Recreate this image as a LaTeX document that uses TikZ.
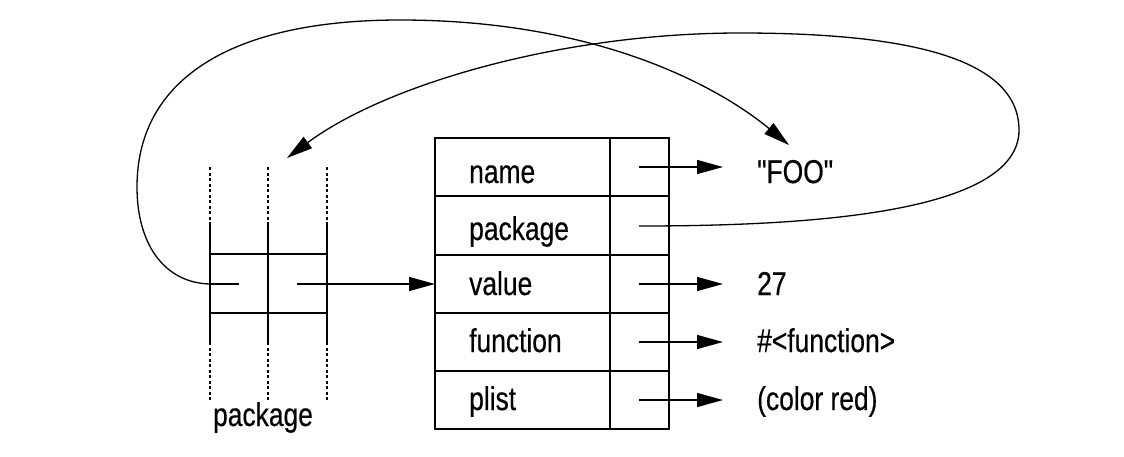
\documentclass[tikz,border=0pt]{standalone}
\usepackage{fontspec}
\setmainfont{Liberation Sans}[FakeStretch=0.8,FakeBold=0.4,Ligatures=TeXOff]
\usetikzlibrary{arrows.meta}
\begin{document}
\begin{tikzpicture}[x=1pt,y=-1pt,
  tbl/.style={line width=1.5pt},
  conn/.style={line width=1.3pt},
  arr/.style={conn,-{Triangle[length=26pt,width=14pt]}},
  dots/.style={line width=1.2pt,dash pattern=on 3pt off 2.5pt},
  lbl/.style={anchor=base west,inner sep=0pt,font=\fontsize{33}{39}\selectfont}]
\useasboundingbox (0,0) rectangle (1124,456);
% symbol table
\draw[tbl] (435,138) rectangle (669,429);
\draw[tbl] (610,138) -- (610,429);
\foreach \y in {196,255,313,371} \draw[tbl] (435,\y) -- (669,\y);
\node[lbl] (lname) at (469,183) {name};
\node[lbl] (lpkg) at (469,240) {package};
\node[lbl] (lval) at (469,295) {value};
\node[lbl] (lfun) at (469,352) {function};
\node[lbl] (lpl) at (469,410) {plist};
% slot pointers
\coordinate (s1) at (639,167);
\coordinate (s2) at (639,226);
\coordinate (s3) at (639,284);
\coordinate (s4) at (639,342);
\coordinate (s5) at (639,400);
\coordinate (t1) at (723,167);
\coordinate (t3) at (723,284);
\coordinate (t4) at (723,342);
\coordinate (t5) at (723,400);
\node[lbl] (foo) at (757,183) {"FOO"};
\node[lbl] (v27) at (757,295) {27};
\node[lbl] (vfun) at (757,352) {\#<function>};
\node[lbl] (vpl) at (757,410) {(color red)};
\draw[arr] (s1) -- (t1);
\draw[arr] (s3) -- (t3);
\draw[arr] (s4) -- (t4);
\draw[arr] (s5) -- (t5);
% package cell
\foreach \x in {210,268,327} {
  \draw[dots] (\x,167) -- (\x,222);
  \draw[line width=1.4pt] (\x,222) -- (\x,342);
  \draw[dots] (\x,342) -- (\x,400);
}
\draw[line width=1.4pt] (210,254) -- (327,254);
\draw[line width=1.4pt] (210,313) -- (327,313);
\coordinate (c1) at (210,284);
\coordinate (c1e) at (239,284);
\coordinate (c2) at (297,284);
\coordinate (tv) at (435,284);
\draw[conn] (c1) -- (c1e);
\draw[arr] (c2) -- (tv);
\node[anchor=base,inner sep=0pt,font=\fontsize{33}{39}\selectfont] (pkglbl) at (263,426) {package};
% curves
\coordinate (tfoo) at (789,145);
\coordinate (tpkg) at (287,158);
\draw[arr] (c1) .. controls (165,283) and (137,245) .. (137,187)
  .. controls (137,80) and (230,20) .. (400,20)
  .. controls (600,20) and (720,88) .. (tfoo);
\draw[arr] (s2) .. controls (800,226) and (1019,215) .. (1019,130)
  .. controls (1019,50) and (880,33) .. (740,33)
  .. controls (560,33) and (385,85) .. (tpkg);
\end{tikzpicture}
\end{document}
